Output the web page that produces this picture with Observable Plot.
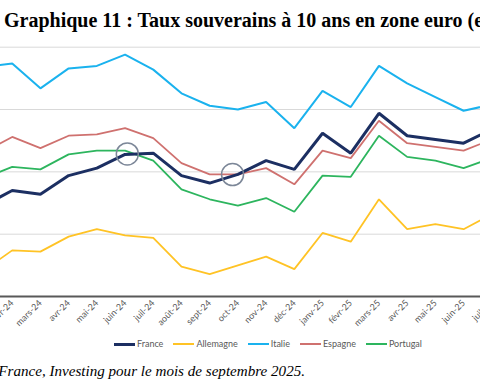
<!DOCTYPE html>
<html><head><meta charset="utf-8">
<script src="https://cdn.jsdelivr.net/npm/d3@7"></script>
<script src="https://cdn.jsdelivr.net/npm/@observablehq/plot@0.6"></script>
<style>
html,body{margin:0;padding:0;background:#fff;}
body{width:480px;height:384px;overflow:hidden;position:relative;}
#title{position:absolute;left:4px;top:10px;font:bold 20px/20px "Liberation Serif",serif;white-space:nowrap;color:#000;}
#chart{position:absolute;left:0;top:40px;}
#legend{position:absolute;left:114px;top:338px;display:flex;align-items:center;font:9px/12px Lato,sans-serif;color:#595959;white-space:nowrap;}
#legend .it{display:flex;align-items:center;margin-right:10px;}
#legend .sw{width:21px;margin-right:2px;}
#caption{position:absolute;right:175px;top:363px;font:italic 15.1px/16px "Liberation Serif",serif;white-space:nowrap;color:#000;}
</style></head>
<body>
<div id="title">Graphique 11 : Taux souverains à 10 ans en zone euro (en %)</div>
<div id="chart"></div>
<div id="legend"></div>
<div id="caption">Source : Banque de France, Investing pour le mois de septembre 2025.</div>
<script>
const months = ["janv-24","févr-24","mars-24","avr-24","mai-24","juin-24","juil-24","août-24","sept-24","oct-24","nov-24","déc-24","janv-25","févr-25","mars-25","avr-25","mai-25","juin-25","juil-25"];
const france    = [2.73,2.85,2.82,2.97,3.03,3.14,3.15,2.97,2.91,2.98,3.09,3.02,3.31,3.15,3.47,3.29,3.26,3.23,3.34];
const allemagne = [2.21,2.37,2.36,2.48,2.54,2.49,2.47,2.24,2.18,2.25,2.32,2.22,2.51,2.44,2.78,2.54,2.58,2.54,2.66];
const italie    = [3.84,3.87,3.67,3.83,3.85,3.94,3.82,3.63,3.53,3.50,3.56,3.35,3.65,3.52,3.85,3.71,3.60,3.49,3.54];
const espagne   = [3.16,3.28,3.19,3.29,3.30,3.35,3.27,3.07,2.98,2.98,3.03,2.90,3.17,3.11,3.41,3.23,3.20,3.17,3.26];
const portugal  = [2.95,3.04,3.02,3.14,3.17,3.17,3.09,2.86,2.78,2.73,2.79,2.68,2.97,2.96,3.29,3.12,3.09,3.03,3.11];
const gridValues = [2.5,3,3.5,4];
const annotX = [5.08, 8.81];
const annotY = [3.144, 2.978];

const series = [
  {name:"France", values:france, color:"#1c2f62", width:3},
  {name:"Allemagne", values:allemagne, color:"#ffc325", width:1.8},
  {name:"Italie", values:italie, color:"#1ab2ee", width:2},
  {name:"Espagne", values:espagne, color:"#cf716f", width:1.8},
  {name:"Portugal", values:portugal, color:"#2db55e", width:1.8}
];
const drawOrder = ["Allemagne","Italie","Espagne","Portugal","France"];
const idx = months.map((m,i)=>i);

const lineMarks = drawOrder.map(n => {
  const s = series.find(d=>d.name===n);
  return Plot.line(idx, {x: i=>i, y: i=>s.values[i], stroke: s.color, strokeWidth: s.width, strokeLinejoin:"miter", strokeLinecap:"butt"});
});

const annots = annotX.map((x,i)=>({x, y: annotY[i]}));

const plot = Plot.plot({
  width: 480, height: 300,
  marginLeft: 0, marginRight: 0, marginTop: 6.7, marginBottom: 44,
  style: {overflow: "hidden", background: "white"},
  x: {type: "linear", domain: [0, 18], range: [-16.5, 491.3], label: null},
  y: {domain: [2, 4], label: null},
  marks: [
    Plot.ruleY(gridValues, {stroke: "#d9d9d9", strokeWidth: 1}),
    ...lineMarks,
    Plot.dot(annots, {x:"x", y:"y", r: 11, stroke: "#7c8798", strokeWidth: 1.5, fill: "none"}),
    Plot.ruleY([2], {stroke: "#595959", strokeWidth: 2}),
    Plot.axisX({ticks: idx, tickFormat: i => months[i], tickRotate: -45, tickSize: 0, tickPadding: 5, fontSize: 9, fontFamily: "Lato, sans-serif", fill: "#595959", label: null})
  ]
});
document.getElementById("chart").appendChild(plot);

const lg = document.getElementById("legend");
series.forEach(s => {
  const it = document.createElement("div"); it.className = "it";
  const sw = document.createElement("div"); sw.className = "sw";
  sw.style.height = (s.name==="France"?3:2)+"px"; sw.style.background = s.color;
  const t = document.createElement("span"); t.textContent = s.name;
  it.appendChild(sw); it.appendChild(t); lg.appendChild(it);
});
</script>
</body></html>
